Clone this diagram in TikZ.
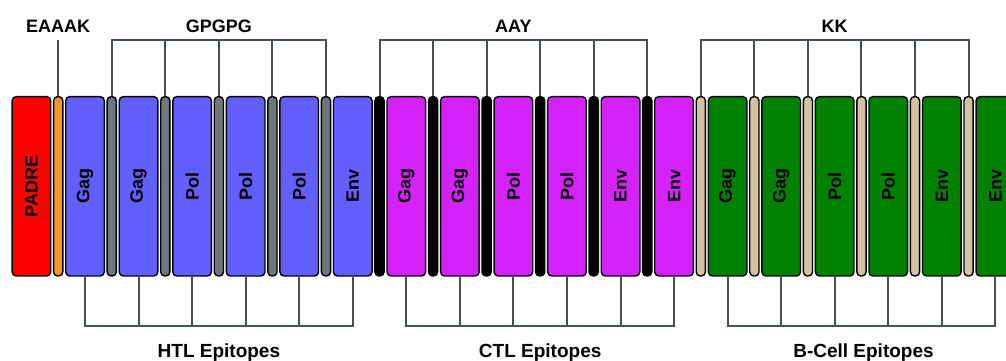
\documentclass[tikz,border=0pt]{standalone}
\usepackage{fontspec}
\setmainfont{Liberation Sans}
\usepackage{graphicx}
\definecolor{padreRed}{RGB}{255,0,0}
\definecolor{eaaakOrange}{RGB}{250,148,35}
\definecolor{htlBlue}{RGB}{99,95,255}
\definecolor{gpgpgGray}{RGB}{110,118,126}
\definecolor{ctlMagenta}{RGB}{214,34,250}
\definecolor{bcellGreen}{RGB}{0,130,0}
\definecolor{kkTan}{RGB}{212,195,163}
\definecolor{bracketGray}{RGB}{70,80,92}
\tikzset{
  epitope/.style={draw=black, line width=1.4pt, rounded corners=4pt, minimum width=38.6pt, minimum height=179.3pt, inner sep=0pt, font=\bfseries\fontsize{18}{20}\selectfont},
  linker/.style={draw=black, line width=1.4pt, rounded corners=4pt, minimum width=9.2pt, minimum height=179.3pt, inner sep=0pt},
  bracket/.style={draw=bracketGray, line width=2pt},
  toplabel/.style={anchor=base, inner sep=0pt, font=\bfseries\fontsize{18}{20}\selectfont},
  bottomlabel/.style={anchor=base, inner sep=0pt, font=\bfseries\fontsize{19}{21}\selectfont}
}
\begin{document}
\begin{tikzpicture}
% multi-epitope construct, 1 unit = 1 px of the layout
\def\px{1pt}
\providecommand{\vacBarTop}{40.5}
\providecommand{\vacBarBottom}{326.2}
\begin{scope}[x=\px, y=-\px, line cap=butt, line join=miter]
  \useasboundingbox (0,0) rectangle (1006,361);
  \clip (0,0) rectangle (1006,361);
  % Adjuvant and first linker
  \node[epitope, fill=padreRed] (b0) at (31.45,186.3) {\rotatebox{90}{PADRE}};
  \node[linker, fill=eaaakOrange] (l0) at (58.2,186.3) {};
  % HTL epitopes joined by GPGPG
  \node[epitope, fill=htlBlue] (b1) at (85.0,186.3) {\rotatebox{90}{Gag}};
  \node[linker, fill=gpgpgGray] (l1) at (111.75,186.3) {};
  \node[epitope, fill=htlBlue] (b2) at (138.55,186.3) {\rotatebox{90}{Gag}};
  \node[linker, fill=gpgpgGray] (l2) at (165.3,186.3) {};
  \node[epitope, fill=htlBlue] (b3) at (192.1,186.3) {\rotatebox{90}{Pol}};
  \node[linker, fill=gpgpgGray] (l3) at (218.85,186.3) {};
  \node[epitope, fill=htlBlue] (b4) at (245.65,186.3) {\rotatebox{90}{Pol}};
  \node[linker, fill=gpgpgGray] (l4) at (272.4,186.3) {};
  \node[epitope, fill=htlBlue] (b5) at (299.2,186.3) {\rotatebox{90}{Pol}};
  \node[linker, fill=gpgpgGray] (l5) at (325.95,186.3) {};
  \node[epitope, fill=htlBlue] (b6) at (352.75,186.3) {\rotatebox{90}{Env}};
  % CTL epitopes joined by AAY
  \node[linker, fill=black] (l6) at (379.5,186.3) {};
  \node[epitope, fill=ctlMagenta] (b7) at (406.3,186.3) {\rotatebox{90}{Gag}};
  \node[linker, fill=black] (l7) at (433.05,186.3) {};
  \node[epitope, fill=ctlMagenta] (b8) at (459.85,186.3) {\rotatebox{90}{Gag}};
  \node[linker, fill=black] (l8) at (486.6,186.3) {};
  \node[epitope, fill=ctlMagenta] (b9) at (513.4,186.3) {\rotatebox{90}{Pol}};
  \node[linker, fill=black] (l9) at (540.15,186.3) {};
  \node[epitope, fill=ctlMagenta] (b10) at (566.95,186.3) {\rotatebox{90}{Pol}};
  \node[linker, fill=black] (l10) at (593.7,186.3) {};
  \node[epitope, fill=ctlMagenta] (b11) at (620.5,186.3) {\rotatebox{90}{Env}};
  \node[linker, fill=black] (l11) at (647.25,186.3) {};
  \node[epitope, fill=ctlMagenta] (b12) at (674.05,186.3) {\rotatebox{90}{Env}};
  % B-cell epitopes joined by KK
  \node[linker, fill=kkTan] (l12) at (700.8,186.3) {};
  \node[epitope, fill=bcellGreen] (b13) at (727.6,186.3) {\rotatebox{90}{Gag}};
  \node[linker, fill=kkTan] (l13) at (754.35,186.3) {};
  \node[epitope, fill=bcellGreen] (b14) at (781.15,186.3) {\rotatebox{90}{Gag}};
  \node[linker, fill=kkTan] (l14) at (807.9,186.3) {};
  \node[epitope, fill=bcellGreen] (b15) at (834.7,186.3) {\rotatebox{90}{Pol}};
  \node[linker, fill=kkTan] (l15) at (861.45,186.3) {};
  \node[epitope, fill=bcellGreen] (b16) at (888.25,186.3) {\rotatebox{90}{Pol}};
  \node[linker, fill=kkTan] (l16) at (915.0,186.3) {};
  \node[epitope, fill=bcellGreen] (b17) at (941.8,186.3) {\rotatebox{90}{Env}};
  \node[linker, fill=kkTan] (l17) at (968.55,186.3) {};
  \node[epitope, fill=bcellGreen] (b18) at (995.35,186.3) {\rotatebox{90}{Env}};
  % Linker labels and brackets
  \node[toplabel] (eaaak) at (58.2,32.3) {EAAAK};
  \node[toplabel] (gpgpg) at (218.85,32.3) {GPGPG};
  \node[toplabel] (aay) at (513.4,32.3) {AAY};
  \node[toplabel] (kk) at (834.7,32.3) {KK};
  \coordinate (eaaakbar) at (58.2,\vacBarTop);
  \coordinate (gpgpgbar) at (218.85,\vacBarTop);
  \coordinate (aaybar) at (513.4,\vacBarTop);
  \coordinate (kkbar) at (834.7,\vacBarTop);
  \draw[bracket] (l0.north) -- (eaaakbar);
  \draw[bracket] (l1.north) -- (l1.north |- gpgpgbar) -- (l5.north |- gpgpgbar) -- (l5.north);
  \draw[bracket] (l2.north) -- (l2.north |- gpgpgbar);
  \draw[bracket] (l3.north) -- (l3.north |- gpgpgbar);
  \draw[bracket] (l4.north) -- (l4.north |- gpgpgbar);
  \draw[bracket] (l6.north) -- (l6.north |- aaybar) -- (l11.north |- aaybar) -- (l11.north);
  \draw[bracket] (l7.north) -- (l7.north |- aaybar);
  \draw[bracket] (l8.north) -- (l8.north |- aaybar);
  \draw[bracket] (l9.north) -- (l9.north |- aaybar);
  \draw[bracket] (l10.north) -- (l10.north |- aaybar);
  \draw[bracket] (l12.north) -- (l12.north |- kkbar) -- (l17.north |- kkbar) -- (l17.north);
  \draw[bracket] (l13.north) -- (l13.north |- kkbar);
  \draw[bracket] (l14.north) -- (l14.north |- kkbar);
  \draw[bracket] (l15.north) -- (l15.north |- kkbar);
  \draw[bracket] (l16.north) -- (l16.north |- kkbar);
  % Epitope group labels and brackets
  \node[bottomlabel] (htl) at (218.9,357.5) {HTL Epitopes};
  \node[bottomlabel] (ctl) at (540.2,357.5) {CTL Epitopes};
  \node[bottomlabel] (bcell) at (863.5,357.5) {B-Cell Epitopes};
  \coordinate (htlbar) at (218.9,\vacBarBottom);
  \coordinate (ctlbar) at (540.2,\vacBarBottom);
  \coordinate (bcellbar) at (861.5,\vacBarBottom);
  \draw[bracket] (b1.south) -- (b1.south |- htlbar) -- (b6.south |- htlbar) -- (b6.south);
  \draw[bracket] (b2.south) -- (b2.south |- htlbar);
  \draw[bracket] (b3.south) -- (b3.south |- htlbar);
  \draw[bracket] (b4.south) -- (b4.south |- htlbar);
  \draw[bracket] (b5.south) -- (b5.south |- htlbar);
  \draw[bracket] (b7.south) -- (b7.south |- ctlbar) -- (b12.south |- ctlbar) -- (b12.south);
  \draw[bracket] (b8.south) -- (b8.south |- ctlbar);
  \draw[bracket] (b9.south) -- (b9.south |- ctlbar);
  \draw[bracket] (b10.south) -- (b10.south |- ctlbar);
  \draw[bracket] (b11.south) -- (b11.south |- ctlbar);
  \draw[bracket] (b13.south) -- (b13.south |- bcellbar) -- (b18.south |- bcellbar) -- (b18.south);
  \draw[bracket] (b14.south) -- (b14.south |- bcellbar);
  \draw[bracket] (b15.south) -- (b15.south |- bcellbar);
  \draw[bracket] (b16.south) -- (b16.south |- bcellbar);
  \draw[bracket] (b17.south) -- (b17.south |- bcellbar);
\end{scope}
\end{tikzpicture}
\end{document}
